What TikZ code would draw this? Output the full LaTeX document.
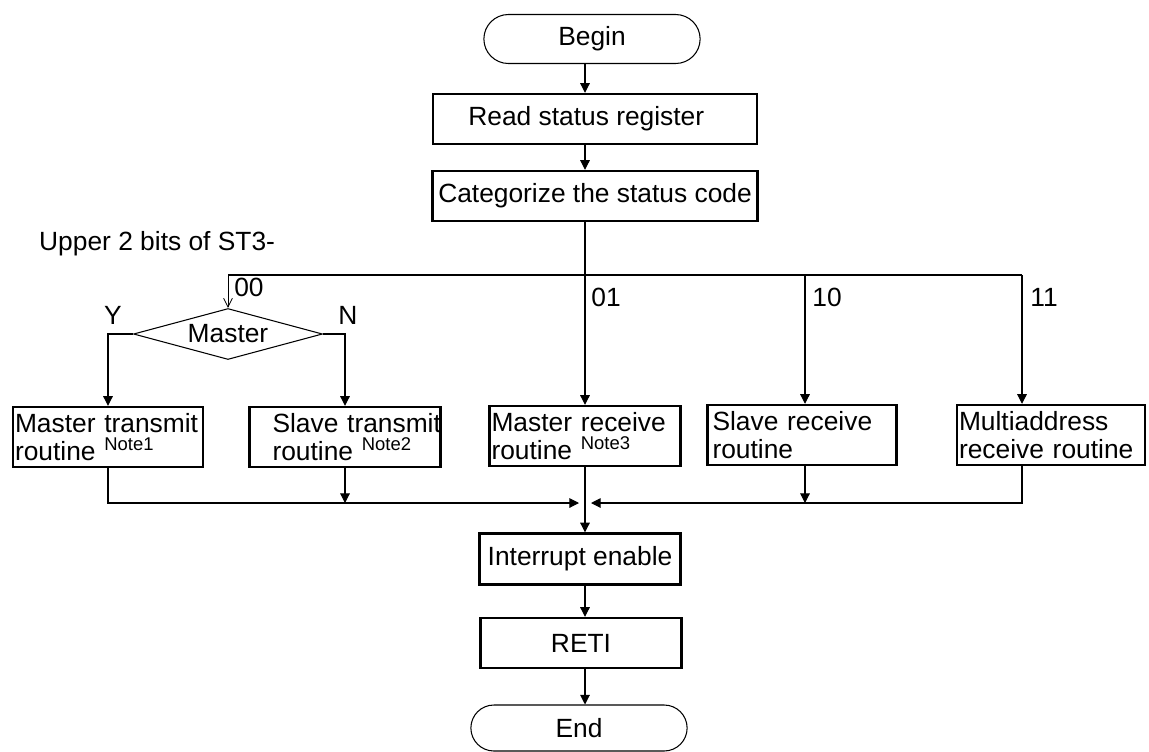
\documentclass[tikz,border=0pt]{standalone}
\usepackage{fontspec}
\setmainfont{Liberation Sans}
\usetikzlibrary{positioning, arrows.meta, shapes.misc, shapes.geometric}

\newcommand{\notemark}[1]{{\fontsize{10.5}{12}\selectfont\raisebox{5.5pt}{#1}}}

\begin{document}
\begin{tikzpicture}[
    x=0.02cm, y=-0.02cm,
    every node/.style={font=\fontsize{15}{16}\selectfont},
    % Start / stop terminals
    term_node/.style={rounded rectangle, draw=black, line width=0.6pt, minimum width=4.56cm, minimum height=0.98cm},
    % Plain process boxes
    proc_box/.style={rectangle, draw=black, line width=1.4pt, minimum height=1.0cm},
    % Two-line routine boxes
    routine_box/.style={rectangle, draw=black, line width=1.4pt, minimum height=1.2cm, inner xsep=0.04cm, align=left},
    decision/.style={diamond, draw=black, line width=0.6pt, aspect=3.7, inner sep=0pt, minimum width=3.78cm, minimum height=1.02cm},
    % Connection styles
    connection/.style={-{Triangle[length=5.5pt, width=5.5pt]}, line width=0.6pt, color=black},
    open_arrow/.style={-{Straight Barb[length=5pt, width=5pt]}, line width=0.5pt},
    plain_line/.style={line width=0.6pt},
    bus_line/.style={line width=1.2pt}
]
    \useasboundingbox (0,0) rectangle (1149,751);

    % --- MAIN COLUMN ---
    \node[term_node] (begin) at (592, 39) {Begin};
    \node[proc_box, minimum width=6.48cm] (read) at (595, 119) {Read status register\hspace*{0.35cm}};
    \node[proc_box, minimum width=6.48cm] (cat) at (595, 196) {Categorize the status code};

    % --- BUS ---
    \coordinate (J) at (585, 275);
    \coordinate (b00) at (228, 275);
    \coordinate (b10) at (805, 275);
    \coordinate (b11) at (1022, 275);
    \node[anchor=west] (upper) at (33, 244) {Upper 2 bits of ST3-};

    \draw[connection] (begin.south -| J) -- (read.north -| J);
    \draw[connection] (read.south -| J) -- (cat.north -| J);
    \draw[plain_line] (cat.south -| J) -- (J);
    \draw[bus_line] (b00) -- (b11);

    % --- BRANCH 00 ---
    \node[decision] (master) at (228, 334) {Master};
    \draw[open_arrow] (b00) -- (master.north);
    \node (l00) at (249, 287) {00};
    \node (lY) at (113, 315) {Y};
    \node (lN) at (348, 315) {N};

    % --- ROUTINES ---
    \node[routine_box, text width=3.72cm] (mtx) at (108, 437) {\mbox{Master transmit}\\\mbox{routine \notemark{Note1}}};
    \node[routine_box, text width=3.74cm] (stx) at (345, 437) {\mbox{\hspace*{0.42cm}Slave transmit}\\\mbox{\hspace*{0.42cm}routine \notemark{Note2}}};
    \node[routine_box, text width=3.74cm] (mrx) at (585, 436) {\mbox{Master receive}\\\mbox{routine \notemark{Note3}}};
    \node[routine_box, text width=3.70cm] (srx) at (802, 435) {\mbox{\hspace*{0.06cm}Slave receive}\\\mbox{\hspace*{0.06cm}routine}};
    \node[routine_box, text width=3.68cm] (mux) at (1051, 435) {\mbox{Multiaddress}\\\mbox{receive routine}};

    \draw[connection] (master.west) -- (master.west -| mtx) -- (mtx.north);
    \draw[connection] (master.east) -- (master.east -| stx) -- (stx.north);
    \draw[connection] (J) -- (mrx.north -| J);
    \draw[connection] (b10) -- (b10 |- srx.north);
    \draw[connection] (b11) -- (b11 |- mux.north);
    \node (l01) at (606, 297) {01};
    \node (l10) at (827, 297) {10};
    \node (l11) at (1044, 297) {11};

    % --- MERGE ---
    \coordinate (mj) at (585, 503);
    \coordinate (mjl) at (579, 503);
    \coordinate (mjr) at (591, 503);
    \draw[connection] (mtx.south) -- (mtx.south |- mj) -- (mjl);
    \draw[connection] (stx.south) -- (stx.south |- mj);
    \draw[connection] (mux.south -| b11) -- (b11 |- mj) -- (mjr);
    \draw[connection] (srx.south -| b10) -- (b10 |- mj);

    % --- TAIL ---
    \node[proc_box, minimum width=4.02cm, minimum height=1.02cm] (inten) at (580, 559) {Interrupt enable};
    \node[proc_box, minimum width=4.02cm] (reti) at (581, 643) {RETI};
    \node[term_node, minimum height=0.92cm] (fin) at (579, 728) {End};

    \draw[connection] (mrx.south -| J) -- (inten.north -| J);
    \draw[connection] (inten.south -| J) -- (reti.north -| J);
    \draw[connection] (reti.south -| J) -- (fin.north -| J);

\end{tikzpicture}
\end{document}
